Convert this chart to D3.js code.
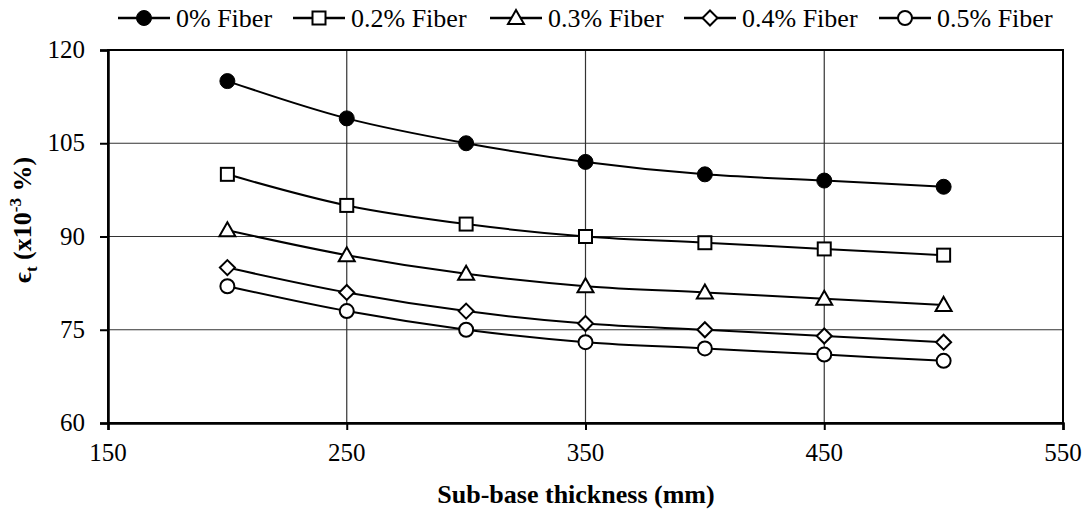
<!DOCTYPE html>
<html>
<head>
<meta charset="utf-8">
<script src="https://cdn.jsdelivr.net/npm/d3@7"></script>
</head>
<body style="margin:0">
<svg id="chart" width="1089" height="512"></svg>
<script>
// Sub-base thickness (mm)
const thickness = [200, 250, 300, 350, 400, 450, 500];

// Tensile strain εt (x10^-3 %) for each fibre content
const fiber0  = [115, 109, 105, 102, 100, 99, 98];
const fiber02 = [100, 95, 92, 90, 89, 88, 87];
const fiber03 = [91, 87, 84, 82, 81, 80, 79];
const fiber04 = [85, 81, 78, 76, 75, 74, 73];
const fiber05 = [82, 78, 75, 73, 72, 71, 70];

const seriesNames = ["0% Fiber", "0.2% Fiber", "0.3% Fiber", "0.4% Fiber", "0.5% Fiber"];
const seriesValues = [fiber0, fiber02, fiber03, fiber04, fiber05];
const seriesSymbols = ["circleFilled", "square", "triangle", "diamond", "circle"];

const xTicks = [150, 250, 350, 450, 550];
const yTicks = [60, 75, 90, 105, 120];

const FONT = "Liberation Serif";

const svg = d3.select("#chart");
const plot = { left: 108, right: 1063, top: 50, bottom: 423 };

const x = d3.scaleLinear().domain([150, 550]).range([plot.left, plot.right]);
const y = d3.scaleLinear().domain([60, 120]).range([plot.bottom, plot.top]);

// gridlines
const grid = svg.append("g");
grid.selectAll("line.v").data(xTicks.slice(1, -1)).join("line")
  .attr("x1", d => x(d)).attr("x2", d => x(d))
  .attr("y1", plot.top).attr("y2", plot.bottom)
  .attr("stroke", "#333").attr("stroke-width", 1.2);
grid.selectAll("line.h").data(yTicks.slice(1, -1)).join("line")
  .attr("x1", plot.left).attr("x2", plot.right)
  .attr("y1", d => y(d)).attr("y2", d => y(d))
  .attr("stroke", "#333").attr("stroke-width", 1.2);

// frame
svg.append("rect")
  .attr("x", plot.left).attr("y", plot.top)
  .attr("width", plot.right - plot.left).attr("height", plot.bottom - plot.top)
  .attr("fill", "none").attr("stroke", "#000").attr("stroke-width", 2);

// axes (tick labels drawn as plain text below)
const xAxis = svg.append("g").attr("transform", `translate(0,${plot.bottom})`)
  .call(d3.axisBottom(x).tickValues(xTicks).tickSize(7).tickFormat(""));
const yAxis = svg.append("g").attr("transform", `translate(${plot.left},0)`)
  .call(d3.axisLeft(y).tickValues(yTicks).tickSize(8).tickFormat(""));
[xAxis, yAxis].forEach(a => {
  a.select(".domain").attr("stroke", "#000").attr("stroke-width", 2.5);
  a.selectAll(".tick line").attr("stroke", "#000").attr("stroke-width", 2);
  a.selectAll(".tick text").remove();
});

svg.selectAll("text.xtick").data(xTicks).join("text")
  .attr("class", "xtick")
  .style("font-family", FONT).attr("font-size", 25)
  .attr("x", d => x(d)).attr("y", 461)
  .attr("text-anchor", "middle")
  .text(d => d);
svg.selectAll("text.ytick").data(yTicks).join("text")
  .attr("class", "ytick")
  .style("font-family", FONT).attr("font-size", 25)
  .attr("x", 85).attr("y", d => y(d) + 8)
  .attr("text-anchor", "end")
  .text(d => d);

// axis titles
svg.append("text")
  .style("font-family", FONT)
  .attr("x", 576).attr("y", 503)
  .attr("text-anchor", "middle")
  .attr("font-size", 26).attr("font-weight", "bold")
  .text("Sub-base thickness (mm)");

const yTitle = svg.append("text")
  .style("font-family", FONT)
  .attr("transform", "translate(31,220) rotate(-90)")
  .attr("text-anchor", "middle")
  .attr("font-size", 26).attr("font-weight", "bold");
yTitle.append("tspan").text("\u03F5");
yTitle.append("tspan").attr("font-size", 17).attr("dy", 6).text("t");
yTitle.append("tspan").attr("dy", -6).text(" (x10");
yTitle.append("tspan").attr("font-size", 17).attr("dy", -10).text("-3");
yTitle.append("tspan").attr("dy", 10).text(" %)");

// marker drawing
function drawMarker(g, type) {
  const sw = 2;
  if (type === "circleFilled") {
    g.append("circle").attr("r", 7.5).attr("fill", "#000").attr("stroke", "#000").attr("stroke-width", 1);
  } else if (type === "circle") {
    g.append("circle").attr("r", 7).attr("fill", "#fff").attr("stroke", "#000").attr("stroke-width", sw);
  } else if (type === "square") {
    g.append("rect").attr("x", -6.5).attr("y", -6.5).attr("width", 13).attr("height", 13)
      .attr("fill", "#fff").attr("stroke", "#000").attr("stroke-width", sw);
  } else if (type === "triangle") {
    g.append("path").attr("d", "M0,-8 L8,6 L-8,6 Z")
      .attr("fill", "#fff").attr("stroke", "#000").attr("stroke-width", sw);
  } else if (type === "diamond") {
    g.append("path").attr("d", "M0,-7.5 L7.5,0 L0,7.5 L-7.5,0 Z")
      .attr("fill", "#fff").attr("stroke", "#000").attr("stroke-width", sw);
  }
}

// series lines
const line = d3.line()
  .x((d, i) => x(thickness[i]))
  .y(d => y(d))
  .curve(d3.curveCatmullRom.alpha(0.5));

seriesValues.forEach(vals => {
  svg.append("path")
    .attr("d", line(vals))
    .attr("fill", "none").attr("stroke", "#000").attr("stroke-width", 2);
});
seriesValues.forEach((vals, s) => {
  vals.forEach((v, i) => {
    const g = svg.append("g").attr("transform", `translate(${x(thickness[i])},${y(v)})`);
    drawMarker(g, seriesSymbols[s]);
  });
});

// legend
const legendMarkers = [144, 319, 516, 710, 905];
seriesNames.forEach((name, s) => {
  const cx = legendMarkers[s];
  const g = svg.append("g").attr("transform", `translate(${cx},18)`);
  g.append("line").attr("x1", -26).attr("x2", 26).attr("y1", 0).attr("y2", 0)
    .attr("stroke", "#000").attr("stroke-width", 2.5);
  drawMarker(g, seriesSymbols[s]);
});
svg.selectAll("text.legend").data(seriesNames).join("text")
  .attr("class", "legend")
  .style("font-family", FONT).attr("font-size", 26)
  .attr("x", (d, i) => legendMarkers[i] + 32).attr("y", 27)
  .text(d => d);
</script>
</body>
</html>
